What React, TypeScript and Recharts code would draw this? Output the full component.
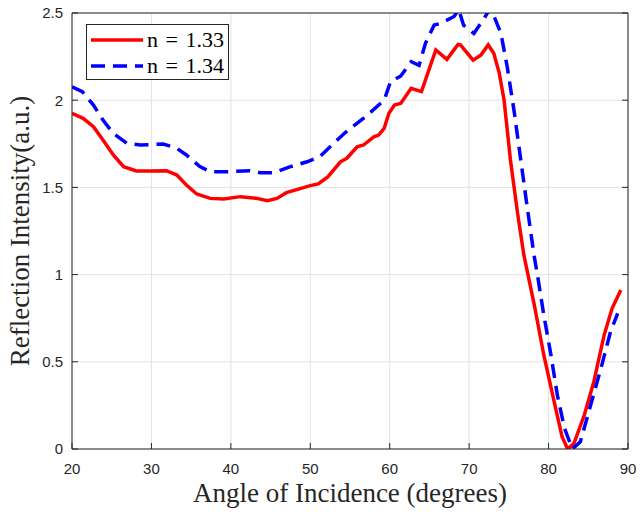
import React from "react";
import {
  LineChart,
  Line,
  XAxis,
  YAxis,
  CartesianGrid,
  Legend,
  Label,
} from "recharts";

// ---- data ----
const redAngles = [
  20, 21.4, 22.7, 23.9, 25.2, 26.5, 28.1, 29.8, 31.9, 33.2, 34.4, 35.7, 37.4,
  39.1, 41.2, 43.3, 44.6, 45.8, 47, 48.5, 50, 51, 52.2, 53.8, 54.6, 55.9, 56.7,
  58, 58.6, 59.3, 59.9, 60.6, 61.4, 62.7, 64, 64.5, 65.8, 67.2, 68.6, 68.9,
  70.5, 71.5, 72.4, 73.1, 73.8, 74.4, 75.2, 76.1, 76.9, 78.2, 79.4, 80.7, 81.7,
  82.4, 83.2, 84.5, 85.7, 87, 88, 89.1,
];
const redValues = [
  1.925, 1.896, 1.848, 1.772, 1.686, 1.619, 1.594, 1.594, 1.596, 1.571, 1.514,
  1.462, 1.437, 1.433, 1.447, 1.437, 1.424, 1.437, 1.47, 1.49, 1.51, 1.52, 1.56,
  1.647, 1.667, 1.733, 1.743, 1.79, 1.8, 1.839, 1.925, 1.972, 1.982, 2.068,
  2.049, 2.116, 2.288, 2.234, 2.32, 2.317, 2.23, 2.26, 2.317, 2.269, 2.154, 2.0,
  1.657, 1.351, 1.11, 0.826, 0.539, 0.271, 0.07, 0.0, 0.033, 0.195, 0.386,
  0.654, 0.807, 0.912,
];

const blueAngles = [
  20, 21.3, 22.7, 23.9, 25.2, 26.9, 28.6, 31.5, 33.2, 34.4, 36.1, 37.4, 39.5,
  42.4, 43.7, 45.4, 47.5, 49.6, 51.2, 52.5, 54.3, 57.2, 59.3, 60.1, 61.4, 62.7,
  63.7, 64.5, 65.6, 66.4, 68.1, 68.7, 69.3, 70.6, 71.9, 72.7, 74, 74.8, 75.7,
  76.5, 77.3, 78.2, 78.6, 79.4, 80.3, 81.1, 82, 83, 84, 85.3, 86.6, 87.8, 88.7,
];
const blueValues = [
  2.077, 2.049, 1.972, 1.886, 1.81, 1.753, 1.743, 1.749, 1.724, 1.686, 1.619,
  1.59, 1.59, 1.596, 1.584, 1.584, 1.619, 1.647, 1.676, 1.733, 1.81, 1.915, 2.0,
  2.106, 2.139, 2.221, 2.2, 2.326, 2.431, 2.44, 2.48, 2.52, 2.43, 2.383, 2.47,
  2.53, 2.383, 2.19, 1.925, 1.657, 1.39, 1.103, 0.998, 0.768, 0.539, 0.31,
  0.119, 0.0, 0.042, 0.252, 0.463, 0.673, 0.778,
];

const xTicks = [20, 30, 40, 50, 60, 70, 80, 90];
const yTicks = [0, 0.5, 1, 1.5, 2, 2.5];
const seriesNames = ["n = 1.33", "n = 1.34"];

const red = redAngles.map((a, i) => ({ angle: a, value: redValues[i] }));
const blue = blueAngles.map((a, i) => ({ angle: a, value: blueValues[i] }));

const AXIS = "#262626";
const SERIF = "'Liberation Serif', 'Times New Roman', serif";
const SANS = "'Liberation Sans', Arial, sans-serif";

const tickStyle = { fontSize: 15, fill: AXIS, fontFamily: SANS };

const renderLegend = (props: any) => {
  const items = props.payload || [];
  return (
    <div
      style={{
        width: 143,
        height: 56,
        boxSizing: "border-box",
        border: `1px solid ${AXIS}`,
        background: "#fff",
        paddingTop: 2,
      }}
    >
      {items.map((entry: any, i: number) => (
        <div
          key={i}
          style={{ display: "flex", alignItems: "center", height: 26 }}
        >
          <svg width={60} height={26} style={{ display: "block" }}>
            <line
              x1={4}
              x2={56}
              y1={13}
              y2={13}
              stroke={entry.color}
              strokeWidth={3.5}
              strokeDasharray={i === 1 ? "14 8" : undefined}
            />
          </svg>
          <span
            style={{
              fontFamily: SERIF,
              fontSize: 22,
              wordSpacing: 2,
              color: "#000",
              whiteSpace: "nowrap",
            }}
          >
            {entry.value}
          </span>
        </div>
      ))}
    </div>
  );
};

export default function App() {
  return (
    <div style={{ width: 644, height: 515, background: "#fff" }}>
      <style>{`body{margin:0}`}</style>

      <LineChart
        width={644}
        height={515}
        margin={{ top: 0, right: 0, bottom: 0, left: 0 }}
      >
        <CartesianGrid stroke="#e3e3e3" strokeWidth={1} />

        <XAxis
          dataKey="angle"
          type="number"
          domain={[20, 90]}
          ticks={xTicks}
          allowDataOverflow
          height={66}
          tickSize={-6}
          tickMargin={20}
          tick={tickStyle}
          axisLine={{ stroke: AXIS }}
          tickLine={{ stroke: AXIS }}
        >
          <Label
            value="Angle of Incidence (degrees)"
            position="insideBottom"
            offset={13}
            style={{ fontFamily: SERIF, fontSize: 27, fill: AXIS }}
          />
        </XAxis>

        <XAxis
          xAxisId="top"
          orientation="top"
          type="number"
          domain={[20, 90]}
          ticks={xTicks}
          allowDataOverflow
          height={13}
          tickSize={-6}
          tickFormatter={() => ""}
          axisLine={{ stroke: AXIS }}
          tickLine={{ stroke: AXIS }}
        />

        <YAxis
          type="number"
          domain={[0, 2.5]}
          ticks={yTicks}
          allowDataOverflow
          width={72}
          tickSize={-6}
          tickMargin={15}
          tick={tickStyle}
          axisLine={{ stroke: AXIS }}
          tickLine={{ stroke: AXIS }}
        >
          <Label
            value="Reflection Intensity(a.u.)"
            angle={-90}
            position="insideLeft"
            offset={19}
            style={{
              textAnchor: "middle",
              fontFamily: SERIF,
              fontSize: 27,
              fill: AXIS,
            }}
          />
        </YAxis>

        <YAxis
          yAxisId="right"
          orientation="right"
          type="number"
          domain={[0, 2.5]}
          ticks={yTicks}
          allowDataOverflow
          width={16}
          tickSize={-6}
          tickFormatter={() => ""}
          axisLine={{ stroke: AXIS }}
          tickLine={{ stroke: AXIS }}
        />

        <Legend
          layout="vertical"
          align="center"
          verticalAlign="middle"
          content={renderLegend}
          wrapperStyle={{ left: 86, top: 24, width: 143, height: 56 }}
        />

        <Line
          data={red}
          dataKey="value"
          name={seriesNames[0]}
          type="linear"
          stroke="#ff0000"
          strokeWidth={3.5}
          dot={false}
          activeDot={false}
          isAnimationActive={false}
        />
        <Line
          data={blue}
          dataKey="value"
          name={seriesNames[1]}
          type="linear"
          stroke="#0000ff"
          strokeWidth={3.5}
          strokeDasharray="14 8"
          dot={false}
          activeDot={false}
          isAnimationActive={false}
        />
      </LineChart>
    </div>
  );
}
